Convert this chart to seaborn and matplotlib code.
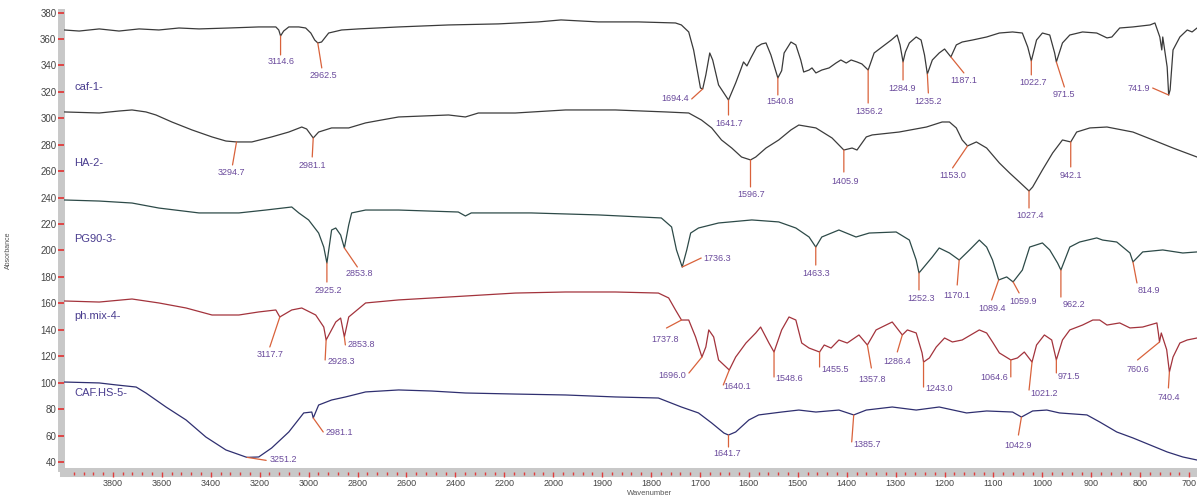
import matplotlib.pyplot as plt
import numpy as np
import pandas as pd
import seaborn as sns
from matplotlib.ticker import FixedLocator

# %% spectra (wavenumber in cm-1, absorbance)

caf_wn = [3999, 3938, 3856, 3775, 3693, 3612, 3530, 3448, 3326, 3204, 3134, 3122, 3114.6, 3102, 3081, 3040,
          3012, 2991, 2975, 2962.5, 2947, 2918, 2865, 2796, 2632, 2428, 2224, 2061, 1984, 1908, 1826, 1750,
          1738, 1723, 1713, 1699, 1694.4, 1688, 1680, 1674, 1662, 1641.7, 1627, 1617, 1611, 1604, 1596, 1584,
          1574, 1565, 1555, 1540.8, 1533, 1528, 1514, 1504, 1494, 1488, 1477, 1471, 1463, 1451, 1436, 1422,
          1412, 1401, 1391, 1379, 1369, 1356.2, 1344, 1328, 1309, 1297, 1291, 1284.9, 1280, 1272, 1258, 1248,
          1241, 1235.2, 1225, 1211, 1200, 1187.1, 1176, 1164, 1143, 1114, 1088, 1061, 1041, 1030, 1022.7, 1012,
          1000, 985, 975, 971.5, 959, 944, 918, 889, 868, 858, 842, 815, 780, 770, 760, 756, 754, 745, 741.9,
          739, 733, 719, 704, 694, 684]
caf_abs = [366.8, 366.0, 367.6, 366.0, 367.6, 366.8, 368.3, 367.6, 368.3, 369.1, 369.1, 366.8, 362.3, 366.0,
           369.1, 369.1, 368.3, 364.5, 359.2, 357.0, 357.7, 364.5, 366.8, 367.6, 369.1, 370.6, 371.4, 372.9,
           374.4, 372.9, 372.9, 372.1, 370.6, 365.3, 351.7, 322.9, 322.2, 332.8, 349.4, 344.1, 325.2, 313.8,
           326.7, 336.5, 342.6, 339.6, 345.6, 353.9, 356.2, 357.0, 347.9, 330.5, 336.0, 349.4, 357.7, 355.5,
           344.1, 335.0, 336.5, 338.1, 334.3, 336.5, 338.1, 341.8, 344.1, 341.8, 344.1, 342.6, 341.1, 336.5,
           349.4, 353.9, 359.2, 363.0, 355.5, 342.6, 350.2, 357.0, 361.5, 359.2, 347.9, 333.5, 344.1, 349.4,
           352.4, 346.4, 355.5, 357.7, 359.2, 361.5, 364.5, 365.3, 364.5, 353.9, 343.4, 359.2, 364.5, 363.0,
           349.4, 342.6, 357.0, 363.0, 365.3, 364.5, 360.8, 361.5, 368.3, 369.1, 370.6, 372.1, 361.5, 351.7,
           361.5, 338.8, 317.6, 321.4, 351.7, 361.5, 366.8, 365.3, 368.3]

ha_wn = [3999, 3856, 3775, 3722, 3665, 3624, 3559, 3477, 3395, 3338, 3294.7, 3232, 3151, 3081, 3028, 3008,
         2981.1, 2959, 2906, 2836, 2767, 2702, 2632, 2428, 2359, 2306, 2155, 1975, 1873, 1770, 1723, 1697,
         1676, 1656, 1635, 1615, 1596.7, 1586, 1565, 1539, 1514, 1498, 1463, 1430, 1405.9, 1389, 1379, 1360,
         1348, 1293, 1237, 1205, 1190, 1176, 1164, 1153.0, 1135, 1114, 1088, 1067, 1047, 1027.4, 1020, 1000,
         979, 959, 942.1, 930, 903, 868, 815, 774, 733, 684]
ha_abs = [304.8, 304.0, 305.5, 306.3, 304.8, 302.5, 297.2, 291.2, 285.9, 282.8, 282.1, 282.1, 285.9, 289.6,
          293.4, 291.9, 285.1, 289.6, 292.7, 292.7, 296.5, 298.7, 301.0, 302.5, 301.0, 304.0, 304.0, 306.3,
          306.3, 304.8, 304.0, 298.7, 292.7, 283.6, 277.5, 270.7, 268.5, 270.7, 277.5, 283.6, 291.2, 294.9,
          292.7, 285.1, 276.0, 277.5, 276.0, 285.9, 287.4, 289.6, 293.4, 297.2, 297.2, 292.7, 283.6, 279.1,
          282.1, 277.5, 266.2, 258.6, 251.8, 245.0, 248.0, 260.9, 273.8, 283.6, 282.1, 289.6, 292.7, 293.4,
          289.6, 283.6, 277.5, 270.7]

pg_wn = [3999, 3856, 3722, 3612, 3448, 3285, 3175, 3069, 3040, 3000, 2959, 2938, 2925.2, 2906, 2889, 2869,
         2853.8, 2836, 2824, 2767, 2632, 2388, 2359, 2335, 2090, 1908, 1779, 1758, 1748, 1736.3, 1727, 1719,
         1703, 1662, 1594, 1539, 1504, 1477, 1463.3, 1451, 1416, 1381, 1354, 1299, 1272, 1258, 1252.3, 1225,
         1211, 1190, 1170.1, 1149, 1129, 1114, 1102, 1089.4, 1073, 1059.9, 1041, 1026, 1000, 985, 969, 962.2,
         944, 924, 889, 877, 848, 821, 814.9, 795, 754, 713, 684]
pg_abs = [238.2, 237.4, 235.9, 232.1, 228.4, 228.4, 230.6, 232.9, 228.4, 223.1, 213.2, 202.6, 190.5, 215.5,
          217.0, 211.7, 201.9, 219.3, 228.4, 230.6, 230.6, 229.1, 226.1, 228.4, 228.4, 226.9, 224.6, 217.8,
          200.4, 187.5, 200.4, 213.2, 217.0, 220.8, 223.1, 221.6, 217.0, 210.2, 202.6, 210.2, 215.5, 210.2,
          213.2, 214.0, 207.9, 192.8, 183.0, 195.1, 201.9, 198.1, 192.8, 200.4, 207.9, 202.6, 192.8, 177.7,
          180.0, 176.2, 185.2, 202.6, 205.7, 200.4, 190.5, 185.2, 202.6, 206.4, 209.5, 207.9, 206.4, 198.1,
          191.3, 198.9, 200.4, 198.1, 198.9]

mix_wn = [3999, 3856, 3722, 3612, 3501, 3395, 3285, 3204, 3134, 3117.7, 3069, 3028, 2971, 2938, 2928.3, 2889,
          2869, 2853.8, 2836, 2767, 2632, 2428, 2155, 1975, 1873, 1785, 1764, 1750, 1737.8, 1723, 1709, 1696.0,
          1688, 1682, 1672, 1662, 1640.1, 1627, 1606, 1586, 1576, 1559, 1548.6, 1533, 1518, 1504, 1492, 1477,
          1455.5, 1446, 1432, 1416, 1399, 1375, 1357.8, 1340, 1328, 1307, 1286.4, 1276, 1258, 1246, 1243.0,
          1231, 1217, 1200, 1184, 1164, 1129, 1114, 1102, 1088, 1064.6, 1051, 1037, 1021.2, 1012, 996, 981,
          971.5, 959, 944, 918, 897, 883, 868, 842, 821, 795, 766, 763, 760.6, 757, 746, 740.4, 733, 719, 704,
          684]
mix_abs = [161.8, 161.0, 163.3, 160.3, 156.5, 151.2, 151.2, 153.5, 155.0, 149.7, 155.0, 156.5, 151.2, 142.1,
           132.3, 145.9, 148.9, 134.6, 149.7, 160.3, 162.6, 164.8, 167.8, 168.6, 168.6, 167.8, 164.1, 155.0,
           147.4, 147.4, 134.6, 119.4, 127.0, 139.9, 134.6, 117.2, 109.6, 119.4, 130.0, 137.6, 142.1, 130.0,
           123.2, 139.9, 149.7, 147.4, 130.0, 126.2, 123.2, 128.5, 126.2, 132.3, 130.0, 136.1, 128.5, 139.9,
           142.1, 145.9, 136.1, 139.9, 137.6, 122.5, 115.6, 118.7, 127.0, 133.8, 130.8, 132.3, 139.9, 137.6,
           130.8, 122.5, 117.2, 118.7, 123.2, 115.6, 128.5, 136.1, 132.3, 117.2, 132.3, 139.9, 143.6, 147.4,
           147.4, 143.6, 145.2, 141.4, 142.1, 145.2, 137.6, 130.8, 137.6, 125.0, 108.1, 119.4, 130.0, 132.3,
           133.8]

hs_wn = [3999, 3856, 3787, 3705, 3665, 3583, 3501, 3420, 3338, 3257, 3251.2, 3204, 3151, 3081, 3020, 2987,
         2981.1, 2959, 2906, 2849, 2767, 2632, 2498, 2359, 2155, 1975, 1873, 1785, 1738, 1703, 1676, 1651,
         1641.7, 1627, 1600, 1580, 1533, 1498, 1463, 1416, 1385.7, 1360, 1307, 1258, 1211, 1155, 1114, 1061,
         1042.9, 1020, 991, 965, 909, 883, 848, 815, 780, 745, 713, 684]
hs_abs = [100.5, 99.8, 98.3, 96.7, 92.2, 81.6, 71.8, 58.9, 49.1, 43.8, 43.5, 43.8, 50.6, 62.7, 77.1, 77.8,
          73.3, 83.1, 86.9, 89.2, 93.0, 94.5, 93.7, 92.2, 91.4, 90.7, 89.2, 88.4, 81.6, 77.1, 69.5, 61.9, 60.4,
          62.7, 71.8, 75.6, 77.8, 79.3, 77.8, 79.3, 75.6, 79.3, 81.6, 79.3, 81.6, 77.1, 78.6, 77.8, 74.0, 78.6,
          79.3, 77.1, 75.6, 70.3, 62.7, 58.2, 52.9, 47.6, 43.8, 41.5]

# labelled peaks (cm-1)
caf_peaks = [3114.6, 2962.5, 1694.4, 1641.7, 1540.8, 1356.2, 1284.9, 1235.2, 1187.1, 1022.7, 971.5, 741.9]
ha_peaks = [3294.7, 2981.1, 1596.7, 1405.9, 1153.0, 1027.4, 942.1]
pg_peaks = [2925.2, 2853.8, 1736.3, 1463.3, 1252.3, 1170.1, 1089.4, 1059.9, 962.2, 814.9]
mix_peaks = [3117.7, 2928.3, 2853.8, 1737.8, 1696.0, 1640.1, 1548.6, 1455.5, 1357.8, 1286.4, 1243.0, 1064.6,
             1021.2, 971.5, 760.6, 740.4]
hs_peaks = [3251.2, 2981.1, 1641.7, 1385.7, 1042.9]

samples = ["caf-1-", "HA-2-", "PG90-3-", "ph.mix-4-", "CAF.HS-5-"]

# %% layout: leader line end / label offsets in pixels (line dx, line dy, text dx, text dy, ha)
caf_offs = [(0, -19, 1, -26, "center"), (4, -25, 6, -33, "center"), (-11, -10, -14, -10, "right"),
            (0, -15, 1, -23, "center"), (0, -17, 2, -24, "center"), (0, -33, 1, -41, "center"),
            (0, -18, -1, -27, "center"), (1, -19, 1, -27, "center"), (13, -16, 13, -24, "center"),
            (0, -14, 2, -22, "center"), (8, -25, 8, -33, "center"), (-16, 7, -19, 7, "right")]
ha_offs = [(-4, -23, -5, -31, "center"), (-1, -19, -1, -28, "center"), (0, -27, 1, -35, "center"),
           (0, -22, 1, -31, "center"), (-15, -22, -15, -30, "center"), (0, -17, 1, -25, "center"),
           (0, -25, 0, -34, "center")]
pg_offs = [(0, -19, 1, -27, "center"), (13, -19, 15, -26, "center"), (19, 9, 21, 9, "left"),
           (0, -18, 0, -26, "center"), (0, -17, 2, -26, "center"), (-2, -25, -2, -35, "center"),
           (-7, -20, -7, -29, "center"), (6, -11, 10, -20, "center"), (0, -27, 2, -34, "left"),
           (4, -21, 5, -29, "left")]
mix_offs = [(-10, -30, -10, -38, "center"), (-1, -20, 1, -22, "left"), (1, -8, 3, -8, "left"),
            (-15, -8, -16, -19, "center"), (-13, -16, -16, -18, "right"), (-6, -15, -6, -17, "left"),
            (0, -25, 1, -26, "left"), (0, -15, 2, -17, "left"), (4, -23, 5, -34, "center"),
            (-5, -17, -5, -27, "center"), (0, -25, 2, -26, "left"), (0, -17, -3, -18, "right"),
            (-3, -28, -2, -31, "left"), (0, -13, 1, -17, "left"), (-22, -18, -22, -28, "center"),
            (-1, -16, -1, -26, "center")]
hs_offs = [(19, -3, 22, -2, "left"), (10, -14, 12, -15, "left"), (0, -12, -1, -18, "center"),
           (-2, -27, 0, -30, "left"), (-3, -18, -3, -28, "center")]

name_pos = [(3958, 323.7), (3958, 266.2), (3958, 208.7), (3958, 150.4), (3958, 92.2)]
colors = ["#3a3a3a", "#3c3c3c", "#2d4a48", "#a3333c", "#2f2f70"]

# %% long table for seaborn
spectra = [(caf_wn, caf_abs), (ha_wn, ha_abs), (pg_wn, pg_abs), (mix_wn, mix_abs), (hs_wn, hs_abs)]
df = pd.concat(
    [pd.DataFrame({"wavenumber": wn, "absorbance": ab, "sample": name}) for name, (wn, ab) in zip(samples, spectra)],
    ignore_index=True,
)


def fwd(w):
    # spectrometer axis: 4000-2000 compressed by 2x
    w = np.asarray(w, dtype=float)
    return np.where(w > 2000, 2000 + (w - 2000) / 2, w)


def inv(u):
    u = np.asarray(u, dtype=float)
    return np.where(u > 2000, 2000 + (u - 2000) * 2, u)


sns.set_style("white")
plt.rcParams["font.family"] = ["Liberation Sans", "DejaVu Sans"]

fig = plt.figure(figsize=(11.97, 4.98), dpi=100)
ax = fig.add_axes([64 / 1197, 30 / 498, 1133 / 1197, 456 / 498])

sns.lineplot(data=df, x="wavenumber", y="absorbance", hue="sample", palette=dict(zip(samples, colors)),
             estimator=None, sort=False, legend=False, linewidth=0.9, ax=ax)

ax.set_xscale("function", functions=(fwd, inv))
ax.set_xlim(4000, 684)
ax.set_ylim(35.46, 380.4)
ax.set_xlabel("")
ax.set_ylabel("")

x_major = list(range(3800, 1999, -200)) + list(range(1900, 699, -100))
x_minor = list(range(3960, 2000, -40)) + list(range(1980, 680, -20))
ax.set_xticks(x_major)
ax.xaxis.set_minor_locator(FixedLocator(x_minor))
ax.set_yticks(range(40, 381, 20))

# gray bar spines sit under the red ticks
ax.set_axisbelow(False)
for s in ["top", "right"]:
    ax.spines[s].set_visible(False)
ax.spines["left"].set_position(("outward", 2.5))
ax.spines["left"].set_linewidth(5)
ax.spines["bottom"].set_position(("outward", 3.2))
ax.spines["bottom"].set_linewidth(6.5)
for s in ["left", "bottom"]:
    ax.spines[s].set_color("#c8c8c8")
    ax.spines[s].set_capstyle("projecting")
    ax.spines[s].set_zorder(0.8)

ax.tick_params(which="both", bottom=True, left=True, top=False, right=False)
ax.tick_params(axis="y", which="major", direction="inout", length=4, width=1.3, color="#e03c3c",
               labelsize=7, labelcolor="#444444", pad=1)
ax.tick_params(axis="x", which="major", direction="out", length=3.5, width=1, color="#e03c3c",
               labelsize=6.5, labelcolor="#444444", pad=1)
ax.tick_params(axis="x", which="minor", direction="out", length=1.8, width=1, color="#e03c3c")

# peak labels with leader lines
all_peaks = [caf_peaks, ha_peaks, pg_peaks, mix_peaks, hs_peaks]
all_offs = [caf_offs, ha_offs, pg_offs, mix_offs, hs_offs]
for (wn, ab), peaks, offs in zip(spectra, all_peaks, all_offs):
    for p, (ldx, ldy, tdx, tdy, ha) in zip(peaks, offs):
        y = np.interp(p, wn[::-1], ab[::-1])
        ax.annotate("", xy=(p, y), xytext=(ldx, ldy), textcoords="offset pixels",
                    arrowprops=dict(arrowstyle="-", color="#d9623b", lw=0.9, shrinkA=0, shrinkB=0))
        ax.annotate(f"{p:.1f}", xy=(p, y), xytext=(tdx, tdy), textcoords="offset pixels",
                    ha=ha, va="center", fontsize=6.5, color="#6a4a9c")

for name, (x, y) in zip(samples, name_pos):
    ax.text(x, y, name, fontsize=8, color="#4a3d8f", ha="left", va="center")

fig.text(8 / 1197, 1 - 250 / 498, "Absorbance", rotation=90, fontsize=5, color="#555555", ha="center", va="center")
fig.text(650 / 1197, 1 - 493 / 498, "Wavenumber", fontsize=5.5, color="#555555", ha="center", va="center")

fig.savefig("out.png", dpi=100)
